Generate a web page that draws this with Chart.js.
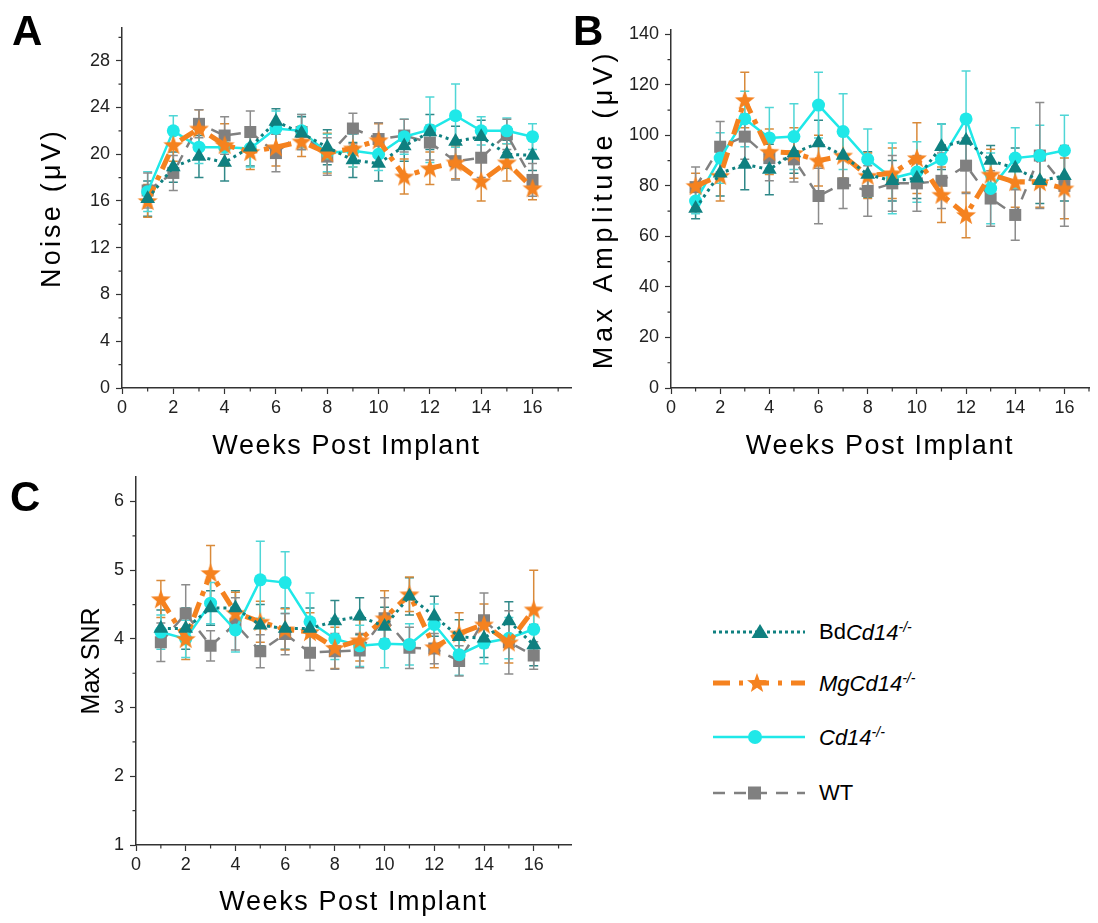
<!DOCTYPE html>
<html>
  <head>
    <meta charset="utf-8">
    <title>Noise, amplitude and SNR after implant</title>
    <style>
      body {
        margin: 0;
        background: #fff;
      }
      #fig {
        position: relative;
        width: 1098px;
        height: 923px;
        font-family: "Liberation Sans", Arial, sans-serif;
        color: #000;
      }
      #fig canvas {
        position: absolute;
      }
      .tag {
        position: absolute;
        font-weight: bold;
        font-size: 42px;
        line-height: 1;
      }
      .row {
        position: absolute;
        left: 713px;
        height: 40px;
        display: flex;
        align-items: center;
        white-space: nowrap;
        font-size: 22px;
      }
      .row svg {
        width: 92px;
        height: 24px;
        margin-right: 14px;
      }
      .row sup {
        font-size: 14px;
      }
    </style>
  </head>
  <body>
    <div id="fig">
      <canvas id="chart-noise" width="580" height="460" style="left: 0; top: 0"></canvas>
      <canvas id="chart-amp" width="538" height="460" style="left: 560px; top: 0"></canvas>
      <canvas id="chart-snr" width="580" height="463" style="left: 0; top: 460px"></canvas>

      <div class="tag" style="left: 12px; top: 10px">A</div>
      <div class="tag" style="left: 573px; top: 10px">B</div>
      <div class="tag" style="left: 10px; top: 476px">C</div>

      <div class="row" style="top: 612px">
        <svg viewBox="0 0 92 24">
          <line x1="0" y1="12" x2="92" y2="12" stroke="#0f8080" stroke-width="3" stroke-dasharray="3 3" />
          <polygon points="47,4 55.5,18 38.5,18" fill="#0f8080" />
        </svg>
        <span>Bd<i>Cd14<sup>-/-</sup></i></span>
      </div>
      <div class="row" style="top: 663px">
        <svg viewBox="0 0 92 24">
          <line x1="0" y1="12" x2="92" y2="12" stroke="#f5821f" stroke-width="5" stroke-dasharray="17 9 4 9" />
          <polygon id="legend-star" fill="#f5821f" />
        </svg>
        <span><i>MgCd14<sup>-/-</sup></i></span>
      </div>
      <div class="row" style="top: 717px">
        <svg viewBox="0 0 92 24">
          <line x1="0" y1="12" x2="92" y2="12" stroke="#1fe8e8" stroke-width="2.5" />
          <circle cx="42" cy="12" r="7" fill="#1fe8e8" />
        </svg>
        <span><i>Cd14<sup>-/-</sup></i></span>
      </div>
      <div class="row" style="top: 773px">
        <svg viewBox="0 0 92 24">
          <line x1="0" y1="12" x2="92" y2="12" stroke="#808080" stroke-width="2.5" stroke-dasharray="12 9" />
          <rect x="35" y="5.5" width="13" height="13" fill="#808080" />
        </svg>
        <span>WT</span>
      </div>
    </div>

    <script src="https://cdn.jsdelivr.net/npm/chart.js@4"></script>
    <script type="text/javascript">
      const weeks = [1, 2, 3, 4, 5, 6, 7, 8, 9, 10, 11, 12, 13, 14, 15, 16];
      const xTicks = [0, 2, 4, 6, 8, 10, 12, 14, 16];
      const xMinor = [1, 3, 5, 7, 9, 11, 13, 15, 17];

      // A: noise (uV), mean and error per week
      const noiseBd = [16.2, 18.9, 19.8, 19.3, 20.6, 22.8, 21.8, 20.6, 19.5, 19.2, 20.7, 21.9, 21.1, 21.5, 20.0, 19.9];
      const noiseMg = [16.0, 20.8, 22.2, 20.8, 20.2, 20.6, 21.1, 20.1, 20.5, 21.2, 18.1, 18.8, 19.3, 17.7, 19.3, 17.1];
      const noiseCd = [16.8, 22.0, 20.6, 20.6, 20.5, 22.2, 22.0, 20.1, 20.3, 20.0, 21.5, 22.1, 23.3, 22.0, 22.0, 21.5];
      const noiseWt = [16.9, 18.4, 22.6, 21.6, 21.9, 20.1, 21.9, 19.8, 22.2, 21.3, 21.6, 21.0, 19.4, 19.7, 21.7, 17.8];
      const noiseBdErr = [1.5, 1.3, 1.8, 1.6, 1.6, 1.1, 1.4, 1.5, 1.5, 1.5, 1.3, 1.5, 1.3, 1.4, 1.2, 1.3];
      const noiseMgErr = [1.4, 1.4, 1.6, 1.8, 1.5, 1.6, 1.3, 1.7, 1.6, 1.4, 1.5, 1.4, 1.4, 1.7, 1.6, 1.0];
      const noiseCdErr = [1.7, 1.3, 1.4, 1.3, 1.6, 1.5, 1.4, 1.6, 1.4, 1.4, 1.5, 2.8, 2.7, 1.2, 1.1, 1.1];
      const noiseWtErr = [1.5, 1.5, 1.2, 1.6, 1.8, 1.6, 1.5, 1.6, 1.3, 1.4, 1.4, 1.5, 1.6, 1.7, 1.3, 1.4];
      const noiseTicks = [0, 4, 8, 12, 16, 20, 24, 28];
      const noiseMinor = [2, 6, 10, 14, 18, 22, 26, 30];

      // B: max amplitude (uV)
      const ampBd = [71, 85, 88.5, 86.5, 93, 97, 92, 84.5, 82, 83, 95.5, 98, 90, 87, 82, 84];
      const ampMg = [80, 84, 114, 93.5, 93, 90, 92, 84, 85, 91, 76.5, 68.5, 84.5, 81.5, 81.5, 79];
      const ampCd = [74, 91, 106.5, 99, 99.5, 112, 101.5, 90.5, 83, 85.5, 90.5, 106.5, 79, 91, 92, 94];
      const ampWt = [79.5, 95.5, 99.5, 91, 90.5, 76, 81, 78, 81, 81, 82, 88, 75, 68.5, 92, 80];
      const ampBdErr = [4, 9, 10, 10, 8, 9, 9, 9, 8, 8, 9, 9, 6, 8, 9, 10];
      const ampMgErr = [5, 10, 11, 9, 10, 10, 9, 9, 10, 14, 11, 9, 10, 10, 10, 12];
      const ampCdErr = [5, 10, 11, 12, 13, 13, 15, 12, 14, 12, 14, 19, 14, 12, 12, 14];
      const ampWtErr = [8, 10, 9, 9, 9, 11, 10, 10, 11, 11, 11, 11, 11, 10, 21, 16];
      const ampTicks = [0, 20, 40, 60, 80, 100, 120, 140];
      const ampMinor = [10, 30, 50, 70, 90, 110, 130];

      // C: max SNR
      const snrBd = [4.15, 4.15, 4.45, 4.45, 4.2, 4.15, 4.15, 4.26, 4.33, 4.18, 4.62, 4.33, 4.03, 4.01, 4.26, 3.91];
      const snrMg = [4.58, 4.0, 4.96, 4.38, 4.25, 4.14, 4.1, 3.87, 3.98, 4.3, 4.65, 3.88, 4.08, 4.21, 3.95, 4.43];
      const snrCd = [4.1, 4.0, 4.52, 4.13, 4.86, 4.82, 4.25, 4.0, 3.9, 3.93, 3.92, 4.21, 3.77, 3.94, 4.01, 4.14];
      const snrWt = [3.95, 4.37, 3.9, 4.22, 3.82, 4.07, 3.8, 3.82, 3.83, 4.3, 3.87, 3.86, 3.68, 4.27, 3.95, 3.76];
      const snrBdErr = [0.27, 0.3, 0.25, 0.25, 0.3, 0.3, 0.3, 0.3, 0.27, 0.28, 0.27, 0.29, 0.25, 0.28, 0.28, 0.3];
      const snrMgErr = [0.27, 0.3, 0.4, 0.3, 0.3, 0.3, 0.28, 0.3, 0.3, 0.4, 0.25, 0.3, 0.3, 0.3, 0.3, 0.57];
      const snrCdErr = [0.25, 0.27, 0.3, 0.32, 0.56, 0.45, 0.42, 0.3, 0.3, 0.35, 0.3, 0.3, 0.3, 0.3, 0.3, 0.3];
      const snrWtErr = [0.28, 0.42, 0.22, 0.38, 0.24, 0.3, 0.26, 0.26, 0.25, 0.3, 0.3, 0.22, 0.22, 0.4, 0.46, 0.2];
      const snrTicks = [1, 2, 3, 4, 5, 6];
      const snrMinor = [1.5, 2.5, 3.5, 4.5, 5.5];

      const FONT = '"Liberation Sans", Arial, sans-serif';
      const AXIS = '#333';

      // filled five point star, used as point style and in the legend
      function starPoints(cx, cy, ro, ri) {
        const pts = [];
        for (let i = 0; i < 10; i++) {
          const r = i % 2 ? ri : ro;
          const a = -Math.PI / 2 + (i * Math.PI) / 5;
          pts.push([cx + r * Math.cos(a), cy + r * Math.sin(a)]);
        }
        return pts;
      }
      const starImg = document.createElement('canvas');
      starImg.width = 22;
      starImg.height = 22;
      {
        const c = starImg.getContext('2d');
        c.fillStyle = '#f5821f';
        c.beginPath();
        starPoints(11, 11.8, 10.5, 4.3).forEach(([px, py], i) => (i ? c.lineTo(px, py) : c.moveTo(px, py)));
        c.closePath();
        c.fill();
      }
      document.getElementById('legend-star').setAttribute(
        'points',
        starPoints(44, 12.5, 10.5, 4.3).map((p) => p.join(',')).join(' '),
      );

      const styles = {
        bd: { color: '#0f8080', errColor: '#2f8888', dash: [3, 4], width: 3, point: 'triangle', radius: 8.5 },
        mg: { color: '#f5821f', errColor: '#d98a3a', dash: [16, 7, 5, 7], width: 5, point: starImg, radius: 9 },
        cd: { color: '#1fe8e8', errColor: '#4fd6d6', dash: [], width: 2.5, point: 'circle', radius: 6.5 },
        wt: { color: '#808080', errColor: '#8c8c8c', dash: [11, 9], width: 2.5, point: 'rect', radius: 8.5 },
      };

      function series(label, values, errors, s) {
        return {
          label,
          data: values.map((v, i) => ({ x: weeks[i], y: v })),
          err: errors,
          errColor: s.errColor,
          borderColor: s.color,
          backgroundColor: s.color,
          borderWidth: s.width,
          borderDash: s.dash,
          borderCapStyle: 'butt',
          pointStyle: s.point,
          pointRadius: s.radius,
          pointBorderWidth: 0,
          pointBackgroundColor: s.color,
          tension: 0,
        };
      }

      const errorBars = {
        id: 'errorBars',
        beforeDatasetsDraw(chart) {
          const { ctx, scales: { x, y } } = chart;
          ctx.save();
          ctx.lineWidth = 1.5;
          chart.data.datasets.forEach((ds) => {
            ctx.strokeStyle = ds.errColor;
            ctx.beginPath();
            ds.data.forEach((p, i) => {
              const px = x.getPixelForValue(p.x);
              const top = y.getPixelForValue(p.y + ds.err[i]);
              const bot = y.getPixelForValue(p.y - ds.err[i]);
              ctx.moveTo(px, top);
              ctx.lineTo(px, bot);
              ctx.moveTo(px - 4.5, top);
              ctx.lineTo(px + 4.5, top);
              ctx.moveTo(px - 4.5, bot);
              ctx.lineTo(px + 4.5, bot);
            });
            ctx.stroke();
          });
          ctx.restore();
        },
      };

      const minorTicks = {
        id: 'minorTicks',
        afterDraw(chart, args, opts) {
          const { ctx, scales: { x, y } } = chart;
          ctx.save();
          ctx.strokeStyle = AXIS;
          ctx.lineWidth = 1.2;
          ctx.beginPath();
          opts.x.forEach((v) => {
            const px = x.getPixelForValue(v);
            ctx.moveTo(px, x.top);
            ctx.lineTo(px, x.top + 3.5);
          });
          opts.y.forEach((v) => {
            const py = y.getPixelForValue(v);
            if (py < y.top) return;
            ctx.moveTo(y.right - 3.5, py);
            ctx.lineTo(y.right, py);
          });
          ctx.stroke();
          ctx.restore();
        },
      };

      // the axis titles in the original are set wide; spread their letters a little
      const titleSpacing = {
        id: 'titleSpacing',
        beforeDraw(chart, args, opts) {
          Object.values(chart.scales).forEach((s) => {
            if (s._spaced) return;
            const draw = s.drawTitle.bind(s);
            s.drawTitle = () => {
              s.ctx.save();
              s.ctx.letterSpacing = opts[s.id];
              draw();
              s.ctx.restore();
            };
            s._spaced = true;
          });
        },
      };

      function makePanel(id, p) {
        return new Chart(document.getElementById(id), {
          type: 'line',
          data: {
            datasets: [
              series('BdCd14-/-', p.values[0], p.errors[0], styles.bd),
              series('MgCd14-/-', p.values[1], p.errors[1], styles.mg),
              series('Cd14-/-', p.values[2], p.errors[2], styles.cd),
              series('WT', p.values[3], p.errors[3], styles.wt),
            ],
          },
          options: {
            responsive: false,
            animation: false,
            events: [],
            layout: { padding: { top: p.top, right: p.right, left: 0, bottom: 0 } },
            plugins: {
              legend: { display: false },
              tooltip: { enabled: false },
              minorTicks: { x: xMinor, y: p.yMinor },
              titleSpacing: { x: '1.6px', y: p.ySpacing },
            },
            scales: {
              x: {
                type: 'linear',
                min: 0,
                max: p.xMax,
                afterBuildTicks: (s) => {
                  s.ticks = xTicks.map((v) => ({ value: v }));
                },
                afterFit: (s) => {
                  s.height = p.xHeight;
                },
                border: { color: AXIS, width: 1.5 },
                grid: { drawOnChartArea: false, tickLength: 6, color: AXIS, tickWidth: 1.2 },
                ticks: { color: '#222', font: { family: FONT, size: 18 }, padding: 3, maxRotation: 0, autoSkip: false },
                title: {
                  display: true,
                  text: 'Weeks Post Implant',
                  color: '#000',
                  font: { family: FONT, size: 27, lineHeight: 1 },
                  padding: { top: 0, bottom: p.xTitlePad },
                },
              },
              y: {
                type: 'linear',
                min: p.yMin,
                max: p.yMax,
                afterBuildTicks: (s) => {
                  s.ticks = p.yTicks.map((v) => ({ value: v }));
                },
                afterFit: (s) => {
                  s.width = p.yWidth;
                },
                border: { color: AXIS, width: 1.5 },
                grid: { drawOnChartArea: false, tickLength: 6, color: AXIS, tickWidth: 1.2 },
                ticks: { color: '#222', font: { family: FONT, size: 18 }, padding: 6, autoSkip: false },
                title: {
                  display: true,
                  text: p.yTitle,
                  color: '#000',
                  font: { family: FONT, size: p.yTitleSize, lineHeight: 1 },
                  padding: { top: p.yTitlePad, bottom: 0 },
                },
              },
            },
          },
          plugins: [errorBars, minorTicks, titleSpacing],
        });
      }

      makePanel('chart-noise', {
        values: [noiseBd, noiseMg, noiseCd, noiseWt],
        errors: [noiseBdErr, noiseMgErr, noiseCdErr, noiseWtErr],
        yTicks: noiseTicks,
        yMinor: noiseMinor,
        yMin: 0,
        yMax: 30.8,
        xMax: 17.5,
        yTitle: 'Noise (μV)',
        yTitleSize: 27,
        ySpacing: '3.2px',
        top: 28,
        right: 8,
        yWidth: 122,
        xHeight: 72,
        xTitlePad: 0,
        yTitlePad: 39.5,
      });

      makePanel('chart-amp', {
        values: [ampBd, ampMg, ampCd, ampWt],
        errors: [ampBdErr, ampMgErr, ampCdErr, ampWtErr],
        yTicks: ampTicks,
        yMinor: ampMinor,
        yMin: 0,
        yMax: 141.7,
        xMax: 17,
        yTitle: 'Max Amplitude (μV)',
        yTitleSize: 27,
        ySpacing: '4.6px',
        top: 30,
        right: 4,
        yWidth: 111,
        xHeight: 72,
        xTitlePad: 0,
        yTitlePad: 31.5,
      });

      makePanel('chart-snr', {
        values: [snrBd, snrMg, snrCd, snrWt],
        errors: [snrBdErr, snrMgErr, snrCdErr, snrWtErr],
        yTicks: snrTicks,
        yMinor: snrMinor,
        yMin: 1,
        yMax: 6.36,
        xMax: 17.5,
        yTitle: 'Max SNR',
        yTitleSize: 25,
        ySpacing: '0px',
        top: 10,
        right: 6,
        yWidth: 136,
        xHeight: 78,
        xTitlePad: 6.5,
        yTitlePad: 80,
      });
    </script>
  </body>
</html>
